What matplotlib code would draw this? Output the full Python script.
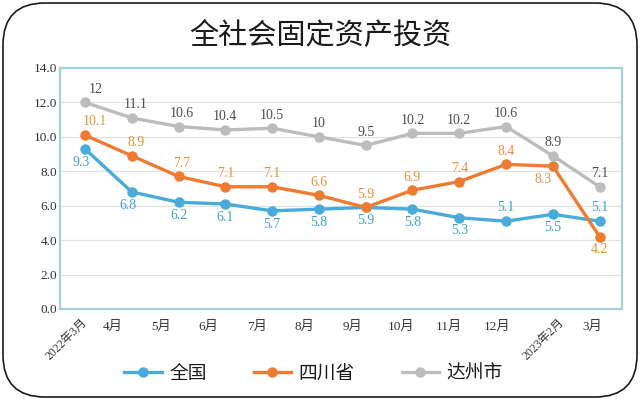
import matplotlib
matplotlib.use("Agg")
import matplotlib.pyplot as plt
from matplotlib.patches import FancyBboxPatch
from matplotlib.transforms import IdentityTransform, ScaledTranslation

months = ["2022年3月", "4月", "5月", "6月", "7月", "8月", "9月", "10月", "11月", "12月", "2023年2月", "3月"]
national = [9.3, 6.8, 6.2, 6.1, 5.7, 5.8, 5.9, 5.8, 5.3, 5.1, 5.5, 5.1]
sichuan = [10.1, 8.9, 7.7, 7.1, 7.1, 6.6, 5.9, 6.9, 7.4, 8.4, 8.3, 4.2]
dazhou = [12, 11.1, 10.6, 10.4, 10.5, 10, 9.5, 10.2, 10.2, 10.6, 8.9, 7.1]
names = ["全国", "四川省", "达州市"]
yticks = [0, 2, 4, 6, 8, 10, 12, 14]

# label placement: 1 = above, -1 = below
nat_pos = [-1, -1, -1, -1, -1, -1, -1, -1, -1, 1, -1, 1]
sc_pos = [1, 1, 1, 1, 1, 1, 1, 1, 1, 1, -1, -1]
dz_pos = [1] * 12
# small horizontal nudges of labels (points)
nat_dx = [-3, -3, 0, 0, 0, 0, 0, 0, 0, 0, 0, 0]
sc_dx = [7, 3, 2, 0, 0, 0, 0, 0, 0, 0, -7, 0]
dz_dx = [8, 3, 2, 0, 0, 0, 0, 0, 0, 0, 0, 0]

SERIF = ["Liberation Serif", "Noto Sans CJK SC"]
SANS = ["Noto Sans CJK SC", "DejaVu Sans"]

fig = plt.figure(figsize=(6.4, 3.99), dpi=100)
fig.patch.set_facecolor("white")

border = FancyBboxPatch((3, 2), 634, 394, boxstyle="round,pad=0,rounding_size=42",
                        transform=IdentityTransform(), fill=False,
                        edgecolor="#1a1a1a", linewidth=1.2)
fig.add_artist(border)

fig.text(0.5, 0.912, "全社会固定资产投资", ha="center", va="center",
         fontsize=21, family=SANS, color="#1a1a1a", fontweight="medium")

ax = fig.add_axes([0.094, 0.2256, 0.878, 0.604])
ax.set_facecolor("white")

blue = "#4aaad9"
orange = "#ee7b30"
gray = "#bcbcbc"
colors = [blue, orange, gray]
label_colors = ["#3aa3cf", "#e8913c", "#4d4d4d"]
series = [national, sichuan, dazhou]
positions = [nat_pos, sc_pos, dz_pos]
nudges = [nat_dx, sc_dx, dz_dx]

x = list(range(len(months)))
handles = []
for vals, c in zip(series, colors):
    h, = ax.plot(x, vals, color=c, lw=2.4, marker="o", markersize=6.5, zorder=3)
    handles.append(h)

for vals, pos, dxs, lc in zip(series, positions, nudges, label_colors):
    for i, (v, p, d) in enumerate(zip(vals, pos, dxs)):
        txt = f"{v:g}"
        ax.annotate(txt, (i, v), xytext=(d, 9.5 * p), textcoords="offset points",
                    ha="center", va="center", fontsize=10, color=lc,
                    family=SERIF, zorder=4)

ax.set_xlim(-0.53, 11.48)
ax.set_ylim(0, 14)
ax.set_yticks(yticks)
ax.set_yticklabels([f"{t:.1f}" for t in yticks], family=SERIF, fontsize=9.5, color="#333333")
ax.tick_params(axis="y", length=0, pad=2)
ax.set_xticks(x)
ax.set_xticklabels([])
ax.tick_params(axis="x", length=0)
ax.grid(axis="y", color="#e2e2e2", lw=0.9)
ax.set_axisbelow(True)
for s in ax.spines.values():
    s.set_color("#a3d2da")
    s.set_linewidth(1.6)

base = ax.get_xaxis_transform()
for i, m in enumerate(months):
    if "年" in m:
        dx = (-4 + 0.9 * i) / 100
        t = base + ScaledTranslation(dx, -7 / 100, fig.dpi_scale_trans)
        ax.text(i, 0, m, transform=t, rotation=45, ha="right", va="top",
                rotation_mode="anchor", fontsize=8.5, family=SERIF, color="#333333")
    else:
        dx = (-19 + 1.2 * (i - 1)) / 100
        t = base + ScaledTranslation(dx, -18 / 100, fig.dpi_scale_trans)
        ax.text(i, 0, m, transform=t, ha="center", va="center",
                fontsize=9.5, family=SERIF, color="#333333")

leg = fig.legend(handles, names, loc="center", bbox_to_anchor=(0.49, 0.065), ncol=3,
                 frameon=False, prop={"family": SANS, "size": 13.5},
                 handlelength=2.0, handletextpad=0.4, columnspacing=2.5)
for t in leg.get_texts():
    t.set_color("#1a1a1a")
for lh in leg.legend_handles:
    lh.set_markersize(6.5)

fig.savefig("out.png", dpi=100)
